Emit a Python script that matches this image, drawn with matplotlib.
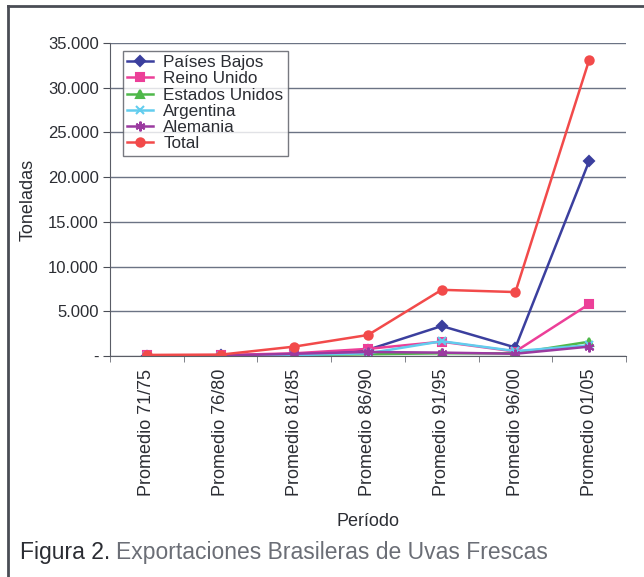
import matplotlib
matplotlib.use("Agg")
import matplotlib.pyplot as plt
from matplotlib.ticker import FuncFormatter, FixedLocator
from matplotlib.lines import Line2D
import numpy as np

plt.rcParams['font.family'] = ['Liberation Sans', 'DejaVu Sans']

categories = ["Promedio 71/75", "Promedio 76/80", "Promedio 81/85", "Promedio 86/90",
              "Promedio 91/95", "Promedio 96/00", "Promedio 01/05"]
paises_bajos = [50, 60, 200, 700, 3350, 950, 21800]
reino_unido = [80, 100, 300, 800, 1600, 500, 5800]
estados_unidos = [20, 30, 100, 200, 300, 300, 1600]
argentina = [10, 20, 100, 300, 1650, 550, 1200]
alemania = [30, 40, 250, 450, 380, 250, 1050]
total = [120, 150, 1050, 2350, 7400, 7150, 33100]

series = [
    ("Países Bajos", paises_bajos, "#3b3f9e", "D", 5),
    ("Reino Unido", reino_unido, "#ec3f98", "s", 6),
    ("Estados Unidos", estados_unidos, "#4fb84a", "^", 6),
    ("Argentina", argentina, "#62cdee", "x", 6),
    ("Alemania", alemania, "#9b3aa0", (6, 2, 0), 7),
    ("Total", total, "#f24a4a", "o", 6),
]

fig = plt.figure(figsize=(6.44, 5.77), dpi=100)
ax = fig.add_axes([110/644, 1-356/577, 516/644, 313/577])
x = np.arange(len(categories))
handles = []
for name, vals, col, mk, ms in series:
    l, = ax.plot(x, vals, color=col, lw=1.8, marker=mk, ms=ms, mew=1.5, label=name)
    handles.append(l)

ax.set_xlim(-0.5, len(categories) - 0.5)
ax.set_ylim(0, 35000)
ax.set_yticks(np.arange(0, 35001, 5000))
ax.yaxis.set_major_formatter(FuncFormatter(lambda v, p: "-" if v == 0 else f"{int(v):,}".replace(",", ".")))
ax.set_xticks(x)
ax.set_xticklabels(categories, rotation=90, fontsize=13, color="#2b2d33")
ax.xaxis.set_minor_locator(FixedLocator(np.arange(-0.5, len(categories), 1)))
ax.tick_params(axis="x", which="major", length=0, pad=9)
ax.tick_params(axis="x", which="minor", length=4, direction="out", color="#6b6e76")
ax.tick_params(axis="y", length=5, color="#4a4d55", labelsize=12, labelcolor="#2b2d33", pad=3)
ax.grid(axis="y", color="#6b7384", lw=1.0)
ax.set_axisbelow(True)
for s in ["top", "right"]:
    ax.spines[s].set_visible(False)
ax.spines["left"].set_color("#5a5d66")
ax.spines["bottom"].set_color("#5a5d66")
ax.set_ylabel("Toneladas", fontsize=13, color="#2b2d33", labelpad=8)
ax.set_xlabel("Período", fontsize=13, color="#2b2d33", labelpad=12)

leg = ax.legend(handles=handles, loc="upper left", bbox_to_anchor=((123-110)/516, (356-51)/313),
                fontsize=12.3, frameon=True, fancybox=False, edgecolor="#555860",
                borderpad=0.25, labelspacing=0.07, handlelength=1.5, handletextpad=0.6,
                borderaxespad=0)
leg.get_frame().set_linewidth(1.0)
for t in leg.get_texts():
    t.set_color("#2b2d33")

# frame lines
fig.add_artist(Line2D([8/644, 8/644], [0, 1-6/577], transform=fig.transFigure, color="#4a4d55", lw=2))
fig.add_artist(Line2D([8/644, 1], [1-6/577, 1-6/577], transform=fig.transFigure, color="#4a4d55", lw=2))

# caption
t1 = fig.text(20/644, 1-553/577, "Figura 2.", fontsize=16.5, color="#2b2d33", va="center", ha="left")
fig.canvas.draw()
bb = t1.get_window_extent()
fig.text((bb.x1 + 6)/644, 1-553/577, "Exportaciones Brasileras de Uvas Frescas",
         fontsize=16.5, color="#6b6e76", va="center", ha="left")

fig.savefig("out.png", dpi=100)
